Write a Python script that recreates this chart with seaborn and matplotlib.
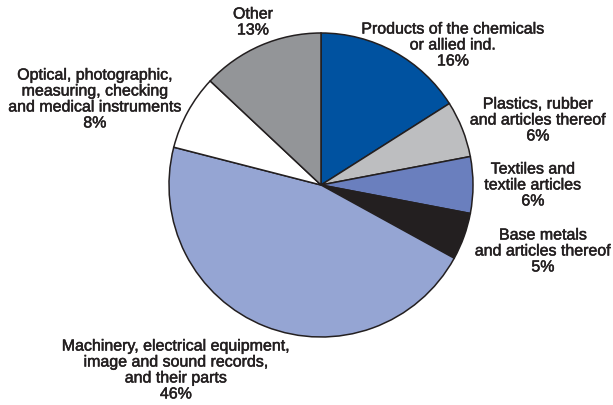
import matplotlib
matplotlib.use("Agg")
import matplotlib.pyplot as plt
import matplotlib.patheffects as pe
import seaborn as sns

sns.set_theme(style="white")
plt.rcParams['font.family'] = ['Liberation Sans', 'DejaVu Sans']

categories = [
    "Products of the chemicals\nor allied ind.",
    "Plastics, rubber\nand articles thereof",
    "Textiles and\ntextile articles",
    "Base metals\nand articles thereof",
    "Machinery, electrical equipment,\nimage and sound records,\nand their parts",
    "Optical, photographic,\nmeasuring, checking\nand medical instruments",
    "Other",
]
shares = [16, 6, 6, 5, 46, 8, 13]
colors = ["#0052A0", "#BDBEC0", "#6A7FBE", "#231F20", "#95A5D3", "#FFFFFF", "#939598"]

# label anchor positions (pixel layout, top-left origin)
label_pos = [(453, 45), (538, 120), (533, 185), (543, 251), (176, 370), (95, 99), (253, 22)]

W, H = 613, 405
fig = plt.figure(figsize=(W / 100, H / 100), dpi=100)
ax = fig.add_axes([0, 0, 1, 1])
ax.set_xlim(0, W)
ax.set_ylim(0, H)
ax.set_aspect("equal")
ax.axis("off")

ax.pie(shares, colors=colors, startangle=90, counterclock=False,
       center=(321, H - 185), radius=152,
       wedgeprops=dict(edgecolor="#231F20", linewidth=1.1))
ax.set_xlim(0, W)
ax.set_ylim(0, H)

for cat, val, (x, y) in zip(categories, shares, label_pos):
    ax.text(x, H - y, f"{cat}\n{val}%", ha="center", va="center",
            fontsize=11.5, color="#231F20", linespacing=1.08,
            path_effects=[pe.withStroke(linewidth=0.35, foreground="#231F20")])

fig.savefig("out.png", dpi=100, facecolor="white")
